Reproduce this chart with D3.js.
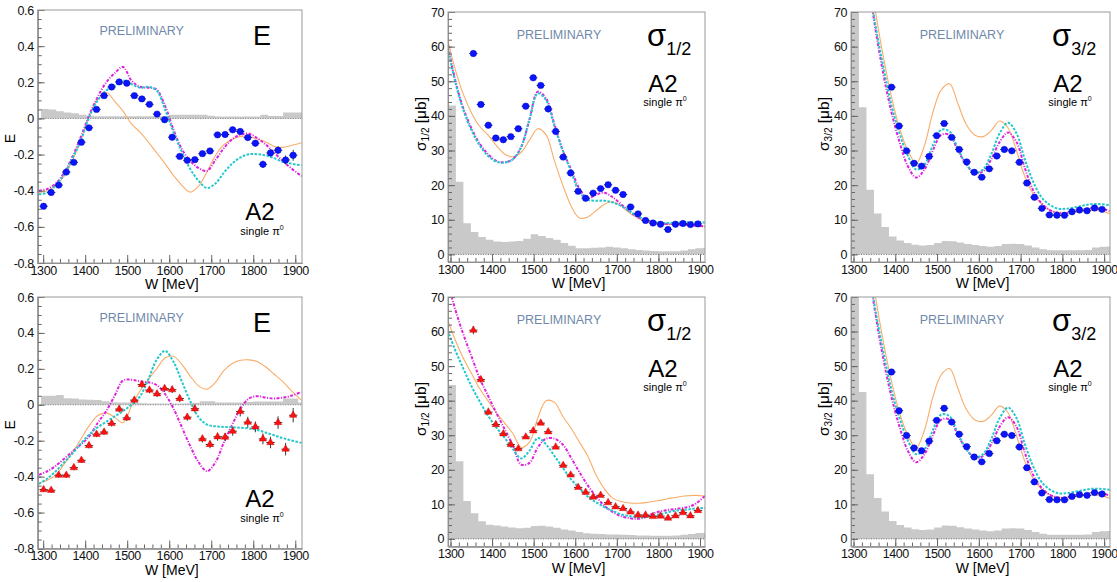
<!DOCTYPE html>
<html>
<head>
<meta charset="utf-8">
<script src="https://cdn.jsdelivr.net/npm/d3@7"></script>
<style>
body { margin: 0; background: #fff; }
text { font-family: "Liberation Sans", Arial, Helvetica, sans-serif; }
</style>
</head>
<body>
<script>
// bin centres of the measured points (MeV)
var wBins = [1301,1319,1337,1355,1373,1391,1409,1427,1445,1463,1481,1499,1517,1535,1553,1571,1589,1607,
             1625,1643,1661,1679,1697,1715,1733,1751,1769,1787,1805,1823,1841,1859,1877,1895];
// edges of the systematic-error histogram bins
var histEdges = [1295,1313,1331,1349,1367,1385,1403,1421,1439,1457,1475,1493,1511,1529,1547,1565,1583,1601,
                 1619,1637,1655,1673,1691,1709,1727,1745,1763,1781,1799,1817,1835,1853,1871,1889,1907,1925];
// W grid of the model curves
var wCurve = [1290,1310,1330,1350,1370,1390,1410,1430,1450,1470,1490,1510,1530,1550,1570,1590,
              1610,1630,1650,1670,1690,1710,1730,1750,1770,1790,1810,1830,1850,1870,1890,1915];

var wTicks = [1300,1400,1500,1600,1700,1800,1900];
var eTicks = [-0.8,-0.6,-0.4,-0.2,0,0.2,0.4,0.6];
var sigTicks = [0,10,20,30,40,50,60,70];

// helicity asymmetry E, upper row (circles)
var eTop = [-0.486,-0.41,-0.369,-0.297,-0.243,-0.132,-0.052,0.05,0.126,0.174,0.202,0.195,0.126,0.108,0.078,0.024,-0.007,
            -0.104,-0.21,-0.232,-0.228,-0.195,-0.18,-0.091,-0.089,-0.063,-0.072,-0.106,-0.137,-0.254,-0.191,-0.176,-0.23,-0.204];
var eTopErr = [0.012,0.012,0.012,0.012,0.012,0.012,0.012,0.012,0.012,0.012,0.012,0.012,0.012,0.012,0.012,0.012,0.012,
               0.013,0.013,0.013,0.013,0.014,0.015,0.015,0.015,0.016,0.016,0.017,0.018,0.02,0.02,0.022,0.025,0.03];
// helicity asymmetry E, lower row (triangles)
var eBot = [-0.472,-0.476,-0.392,-0.392,-0.35,-0.309,-0.227,-0.164,-0.152,-0.104,-0.024,-0.073,0.026,0.113,0.082,0.061,0.091,
            0.084,0.035,-0.069,-0.022,-0.19,-0.221,-0.178,-0.18,-0.147,-0.037,-0.097,-0.123,-0.19,-0.21,-0.099,-0.247,-0.058];
var eBotErr = [0.014,0.014,0.014,0.015,0.015,0.015,0.016,0.016,0.016,0.017,0.018,0.018,0.018,0.018,0.018,0.018,0.019,
               0.019,0.02,0.02,0.02,0.02,0.021,0.022,0.023,0.025,0.028,0.03,0.03,0.03,0.032,0.035,0.035,0.04];

// sigma_1/2 upper and lower rows
var s12Top = [null,null,null,58.0,43.3,37.3,33.6,33.1,34.0,36.3,42.8,51.0,48.8,42.0,35.5,28.1,23.5,18.2,16.2,17.7,19.0,
              20.1,18.5,17.3,13.7,11.7,9.8,9.05,8.7,7.2,8.7,8.9,8.6,8.8];
var s12TopErr = [0,0,0,0.8,0.7,0.6,0.5,0.5,0.5,0.5,0.6,0.7,0.7,0.6,0.5,0.4,0.4,0.3,0.3,0.3,0.3,0.3,0.3,0.3,0.3,0.3,0.3,
                 0.3,0.3,0.3,0.3,0.3,0.3,0.3];
var s12Bot = [null,null,null,60.4,46.1,36.7,33.1,30.4,27.3,26.1,29.5,31.3,33.5,31.0,26.6,21.3,18.5,14.9,13.5,12.1,12.6,
              10.5,9.3,8.8,7.8,6.9,6.9,6.5,6.6,6.0,6.7,7.6,6.7,8.2];
var s12BotErr = [0,0,0,1.2,0.9,0.7,0.6,0.6,0.5,0.5,0.5,0.6,0.6,0.6,0.5,0.5,0.4,0.4,0.4,0.4,0.4,0.4,0.4,0.4,0.4,0.4,0.4,
                 0.4,0.4,0.4,0.4,0.4,0.4,0.4];
// sigma_3/2 (same in both rows)
var s32 = [null,null,null,null,null,48.3,37.1,29.9,26.3,25.5,28.3,34.3,37.8,33.8,30.3,26.7,23.7,22.3,24.7,28.4,30.3,
           29.9,26.6,20.6,16.5,13.3,11.4,11.3,11.3,12.3,12.8,12.6,13.4,13.0];
var s32Err = [0,0,0,0,0,0.6,0.5,0.4,0.4,0.4,0.4,0.5,0.5,0.5,0.4,0.4,0.4,0.4,0.4,0.4,0.4,0.4,0.4,0.3,0.3,0.3,0.3,0.3,0.3,
              0.3,0.3,0.3,0.3,0.3];

// systematic uncertainties (grey histograms)
var histETop = [0.052,0.050,0.040,0.033,0.028,0.021,0.015,0.012,0.012,0.012,0.012,0.012,0.012,0.012,0.012,0.012,0.012,0.020,
                0.020,0.020,0.020,0.020,0.015,0.011,0.011,0.011,0.011,0.011,0.011,0.020,0.013,0.013,0.033,0.033,0.033];
var histEBot = [0.050,0.050,0.054,0.036,0.035,0.030,0.028,0.027,0.020,0.014,0.013,0.013,0.012,0.008,0.007,0.007,0.007,0.007,
                0.007,0.008,0.012,0.020,0.020,0.013,0.013,0.013,0.013,0.016,0.018,0.018,0.018,0.018,0.035,0.035,0.013];
var histS12Top = [43,21,9.0,6.5,5.0,4.2,3.7,3.6,3.7,3.9,4.5,5.8,5.3,4.7,4.2,3.3,2.5,1.8,1.8,1.9,2.0,2.2,2.0,1.8,1.5,1.3,
                  1.1,1.0,0.9,0.9,0.9,1.1,1.5,1.8,1.9];
var histS12Bot = [44.5,22.5,11.0,7.4,5.1,4.1,3.9,3.6,3.3,3.1,3.2,3.7,3.8,3.6,3.2,2.7,2.4,2.0,1.6,1.5,1.4,1.3,1.3,1.2,1.1,
                  1.0,1.0,0.9,0.9,0.9,1.0,1.2,1.4,1.7,1.8];
var histS32 = [85,42.5,18.7,11.8,7.9,5.2,4.0,3.3,2.8,2.6,2.7,3.3,3.9,3.8,3.4,3.0,2.7,2.4,2.2,2.4,3.0,3.1,3.0,2.6,2.0,1.5,
               1.2,1.2,1.2,1.2,1.2,1.3,2.0,2.2,2.3];

// model curves on wCurve
var eTopOrange = [-0.41,-0.40,-0.37,-0.32,-0.23,-0.12,0.02,0.105,0.145,0.095,0.04,-0.03,-0.075,-0.13,-0.19,-0.25,-0.315,
                  -0.37,-0.408,-0.375,-0.295,-0.205,-0.145,-0.115,-0.10,-0.10,-0.115,-0.13,-0.155,-0.16,-0.15,-0.135];
var eTopCyan = [-0.42,-0.41,-0.37,-0.31,-0.22,-0.12,0.01,0.10,0.155,0.18,0.21,0.19,0.17,0.175,0.155,0.05,-0.075,-0.185,
                -0.28,-0.345,-0.385,-0.36,-0.30,-0.25,-0.215,-0.198,-0.198,-0.205,-0.22,-0.24,-0.25,-0.26];
var eTopMagenta = [-0.40,-0.39,-0.36,-0.30,-0.21,-0.10,0.02,0.12,0.20,0.25,0.285,0.21,0.175,0.17,0.16,0.07,-0.06,-0.17,
                   -0.235,-0.275,-0.29,-0.23,-0.165,-0.115,-0.09,-0.085,-0.11,-0.145,-0.19,-0.235,-0.275,-0.32];
var eBotOrange = [-0.435,-0.42,-0.39,-0.33,-0.265,-0.19,-0.115,-0.06,-0.045,-0.07,-0.10,-0.01,0.075,0.14,0.2,0.26,0.27,
                  0.225,0.16,0.105,0.087,0.125,0.19,0.23,0.248,0.25,0.24,0.21,0.17,0.13,0.08,0.025];
var eBotCyan = [-0.44,-0.41,-0.37,-0.32,-0.27,-0.215,-0.165,-0.125,-0.095,-0.065,-0.035,0.0,0.045,0.14,0.25,0.30,0.24,
                0.13,0.02,-0.07,-0.11,-0.12,-0.123,-0.125,-0.128,-0.132,-0.14,-0.155,-0.17,-0.185,-0.198,-0.212];
var eBotMagenta = [-0.39,-0.37,-0.34,-0.30,-0.26,-0.22,-0.175,-0.10,-0.035,0.05,0.135,0.14,0.13,0.125,0.11,0.06,-0.02,
                   -0.125,-0.23,-0.32,-0.37,-0.32,-0.21,-0.11,-0.02,0.035,0.048,0.04,0.035,0.04,0.05,0.072];
var s12TopOrange = [63.7,54,46.5,41,37,34.5,31.5,29,28.2,29.5,33,36.3,34.5,27,20,14,10.5,10.8,12.6,14.5,15.2,14,12,10.5,
                    9.6,9.1,8.8,8.7,8.6,8.5,8.3,8.1];
var s12TopMagenta = [62.5,51,42.5,36.5,32,29,27,26.6,27.5,31,39,47,45,37.5,30,24.5,19,16.2,17.2,17.8,16.5,14.5,12.5,10.8,
                     9.7,9.2,8.9,8.7,8.6,8.5,8.3,8.0];
var s12TopCyan = [62,50.5,42,36,31.5,28.5,26.8,26.5,27.5,31,39,46.5,44.5,37,30,24,18,15.8,15.5,15.5,15.0,14.0,12.5,11.0,
                  10.0,9.4,9.1,9.1,9.2,9.3,9.3,9.2];
var s12BotOrange = [64.4,58,52.5,48,43.5,40,36.5,33.6,30.5,26.5,28,35,40,39.5,35.5,32,28,24,18.5,14.5,11.8,10.8,10.4,10.3,
                    10.5,10.9,11.3,11.8,12.2,12.5,12.6,12.3];
var s12BotMagenta = [76,67,59.5,53,46.5,41.5,36.5,31.8,27,21.5,22,26.5,29,29,27.3,23.5,19.3,15.5,12.3,9.6,7.8,6.6,6.0,5.8,
                     6.3,7.5,8.1,8.5,8.8,9.2,10.2,12.8];
var s12BotCyan = [61.5,55,49.5,44.3,39.8,35.7,32.3,29.3,26,23.3,25.5,29.2,27.3,24,20.6,17.2,14.7,12.2,10.6,9.2,8.1,7.1,6.6,
                  6.3,6.3,6.8,7.3,7.9,8.3,8.5,8.8,9.0];
var s32Orange = [120,105,88,72,58,46,36.5,30,26.3,31.5,41,47.5,49.3,43.5,37.5,34.5,34,35.8,38.5,36.5,30,22.5,17.5,14.5,
                 12.8,12,11.9,12.2,12.5,12.7,12.6,11.7];
var s32Cyan = [115,100,84,68,55,43.5,35,28.5,24.5,26,31.5,36,35.5,30.5,26,23.5,24.5,29,35,38,35,27.5,21,16.5,14.3,13.2,
               13.2,13.6,14.1,14.5,14.5,14.2];
var s32Magenta = [115,100,84,67,53,41.5,32.5,25.5,22.2,24.5,30,34.5,34.5,30,26,23.5,24,27.5,32.5,35.2,32.5,25,18.5,14.8,
                  12.8,12,12,12.4,12.9,13.3,13.2,12.5];

var svg = d3.select("body").append("svg").attr("width", 1117).attr("height", 582);

var panels = [
  { f: [37.7, 10, 302, 263], xDom: [1287, 1916], yDom: [-0.8, 0.6], kind: "E",
    pts: eTop, err: eTopErr, marker: "circle", hist: histETop,
    curves: [eTopOrange, eTopMagenta, eTopCyan] },
  { f: [448, 12, 705, 262], xDom: [1294, 1912], yDom: [-2.2, 70], kind: "s12",
    pts: s12Top, err: s12TopErr, marker: "circle", hist: histS12Top,
    curves: [s12TopOrange, s12TopMagenta, s12TopCyan] },
  { f: [851, 12, 1110, 262], xDom: [1294, 1914], yDom: [-2.2, 70], kind: "s32",
    pts: s32, err: s32Err, marker: "circle", hist: histS32,
    curves: [s32Orange, s32Magenta, s32Cyan] },
  { f: [37.7, 297, 302, 548.5], xDom: [1287, 1916], yDom: [-0.8, 0.6], kind: "E",
    pts: eBot, err: eBotErr, marker: "triangle", hist: histEBot,
    curves: [eBotOrange, eBotMagenta, eBotCyan] },
  { f: [448, 297, 705, 546.5], xDom: [1294, 1912], yDom: [-2.2, 70], kind: "s12",
    pts: s12Bot, err: s12BotErr, marker: "triangle", hist: histS12Bot,
    curves: [s12BotOrange, s12BotMagenta, s12BotCyan] },
  { f: [851, 297, 1110, 546.5], xDom: [1294, 1914], yDom: [-2.2, 70], kind: "s32",
    pts: s32, err: s32Err, marker: "circle", hist: histS32,
    curves: [s32Orange, s32Magenta, s32Cyan] }
];

// orange solid, magenta dash-dot, cyan dashed
var curveStyle = [
  { color: "#f9ad6a", width: 1.1, dash: null },
  { color: "#e020e0", width: 2, dash: "3,1.5,1,1.5" },
  { color: "#20c8cc", width: 2, dash: "2.5,1.5" }
];

function label(g, x, y, size, anchor) {
  return g.append("text").attr("x", x).attr("y", y).attr("font-size", size)
    .attr("text-anchor", anchor || "middle").attr("fill", "#000");
}

panels.forEach(function (p, idx) {
  var x = d3.scaleLinear().domain(p.xDom).range([p.f[0], p.f[2]]);
  var y = d3.scaleLinear().domain(p.yDom).range([p.f[3], p.f[1]]);
  var g = svg.append("g");

  svg.append("clipPath").attr("id", "clip" + idx).append("rect")
    .attr("x", p.f[0]).attr("y", p.f[1])
    .attr("width", p.f[2] - p.f[0]).attr("height", p.f[3] - p.f[1]);
  var plot = g.append("g").attr("clip-path", "url(#clip" + idx + ")");

  // grey systematic band, one step shape
  var steps = p.hist.map(function (v, i) { return [histEdges[i], v]; });
  steps.push([histEdges[p.hist.length], p.hist[p.hist.length - 1]]);
  plot.append("path").datum(steps)
    .attr("d", d3.area().curve(d3.curveStepAfter)
      .x(function (d) { return x(d[0]); }).y0(y(0)).y1(function (d) { return y(d[1]); }))
    .attr("fill", "#c9c9c9");

  // zero line
  plot.append("line").attr("x1", p.f[0]).attr("x2", p.f[2]).attr("y1", y(0)).attr("y2", y(0))
    .attr("stroke", "#777").attr("stroke-width", 1).attr("stroke-dasharray", "1,1.5");

  // model curves
  var line = d3.line().curve(d3.curveCatmullRom.alpha(0.5))
    .x(function (d, i) { return x(wCurve[i]); }).y(function (d) { return y(d); });
  p.curves.forEach(function (c, k) {
    var s = curveStyle[k];
    plot.append("path").datum(c).attr("d", line).attr("fill", "none")
      .attr("stroke", s.color).attr("stroke-width", s.width)
      .attr("stroke-dasharray", s.dash);
  });

  // data with errors
  var data = [];
  p.pts.forEach(function (v, i) { if (v !== null) data.push({ w: wBins[i], v: v, e: p.err[i] }); });
  var eb = g.append("g").attr("stroke", "#3a3a3a").attr("stroke-width", 1);
  data.forEach(function (d) {
    eb.append("line").attr("x1", x(d.w - 10)).attr("x2", x(d.w + 10)).attr("y1", y(d.v)).attr("y2", y(d.v));
    eb.append("line").attr("x1", x(d.w)).attr("x2", x(d.w)).attr("y1", y(d.v - d.e)).attr("y2", y(d.v + d.e));
  });
  if (p.marker === "circle") {
    g.selectAll(null).data(data).enter().append("circle")
      .attr("cx", function (d) { return x(d.w); }).attr("cy", function (d) { return y(d.v); })
      .attr("r", 3.2).attr("fill", "#0a14ff").attr("stroke", "#0008c0").attr("stroke-width", 0.5);
  } else {
    g.selectAll(null).data(data).enter().append("path")
      .attr("d", d3.symbol(d3.symbolTriangle, 24))
      .attr("transform", function (d) { return "translate(" + x(d.w) + "," + y(d.v) + ")"; })
      .attr("fill", "#ff1010").attr("stroke", "#c00000").attr("stroke-width", 0.4);
  }

  // axes: ticks point inwards, ROOT style
  var isE = p.kind === "E";
  g.append("g").attr("transform", "translate(0," + p.f[3] + ")")
    .call(d3.axisBottom(x).tickValues(wTicks).tickSize(-8).tickSizeOuter(0).tickPadding(3)
      .tickFormat(d3.format("d")));
  g.append("g").attr("transform", "translate(0," + p.f[3] + ")")
    .call(d3.axisBottom(x).tickValues(d3.range(1300, 1911, 20)).tickSize(-4).tickSizeOuter(0).tickFormat(""));
  var yMajor = isE ? eTicks : sigTicks;
  g.append("g").attr("transform", "translate(" + p.f[0] + ",0)")
    .call(d3.axisLeft(y).tickValues(yMajor).tickSize(-7).tickSizeOuter(0).tickPadding(4)
      .tickFormat(function (d) { return String(+d.toFixed(1)); }));
  g.append("g").attr("transform", "translate(" + p.f[0] + ",0)")
    .call(d3.axisLeft(y).tickValues(isE ? d3.range(-0.8, 0.601, 0.05) : d3.range(-2, 70.1, 2))
      .tickSize(-4).tickSizeOuter(0).tickFormat(""));
  g.selectAll(".tick line").attr("stroke", "#666");
  g.selectAll(".domain").attr("stroke", "#888");
  g.selectAll(".tick text").attr("font-size", 12.5).attr("fill", "#111").attr("letter-spacing", -0.4)
    .attr("font-family", "'Liberation Sans', Arial, sans-serif");

  // frame
  g.append("rect").attr("x", p.f[0]).attr("y", p.f[1])
    .attr("width", p.f[2] - p.f[0]).attr("height", p.f[3] - p.f[1])
    .attr("fill", "none").attr("stroke", "#999").attr("stroke-width", 1);

  // axis titles
  var cx = (p.f[0] + p.f[2]) / 2;
  label(g, cx + 2, p.f[3] + 26, 14).text("W [MeV]");
  if (isE) {
    label(g, 0, 0, 14).attr("transform", "translate(15," + ((p.f[1] + p.f[3]) / 2 + 2) + ") rotate(-90)").text("E");
  } else {
    var yt = label(g, 0, 0, 15.5)
      .attr("transform", "translate(" + (p.f[0] - 22) + "," + (p.f[1] + 112) + ") rotate(-90)");
    yt.append("tspan").text("\u03c3");
    yt.append("tspan").attr("font-size", 10).attr("dy", 3).text(p.kind === "s12" ? "1/2" : "3/2");
    yt.append("tspan").attr("dy", -3).text(" [\u03bcb]");
  }

  // in-frame annotations
  var top = p.f[1];
  label(g, p.f[0] + (isE ? 104 : 111), top + (isE ? 25 : 27), 12.5)
    .attr("fill", "#7089ab").text("PRELIMINARY");
  if (isE) {
    label(g, p.f[2] - 40, top + 35, 27).text("E");
    label(g, p.f[2] - 42, top + 210, 24).text("A2");
    var sp = label(g, p.f[2] - 40, top + 225, 11);
    sp.append("tspan").text("single \u03c0");
    sp.append("tspan").attr("font-size", 7).attr("dy", -5).text("0");
  } else {
    var tt = label(g, p.f[2] - 58, top + 34, 31, "start");
    tt.append("tspan").text("\u03c3");
    tt.append("tspan").attr("font-size", 18).attr("dy", 9).text(p.kind === "s12" ? "1/2" : "3/2");
    label(g, p.f[2] - 42, top + 80, 24).text("A2");
    var sp2 = label(g, p.f[2] - 40, top + 94, 11);
    sp2.append("tspan").text("single \u03c0");
    sp2.append("tspan").attr("font-size", 7).attr("dy", -5).text("0");
  }
});
</script>
</body>
</html>
